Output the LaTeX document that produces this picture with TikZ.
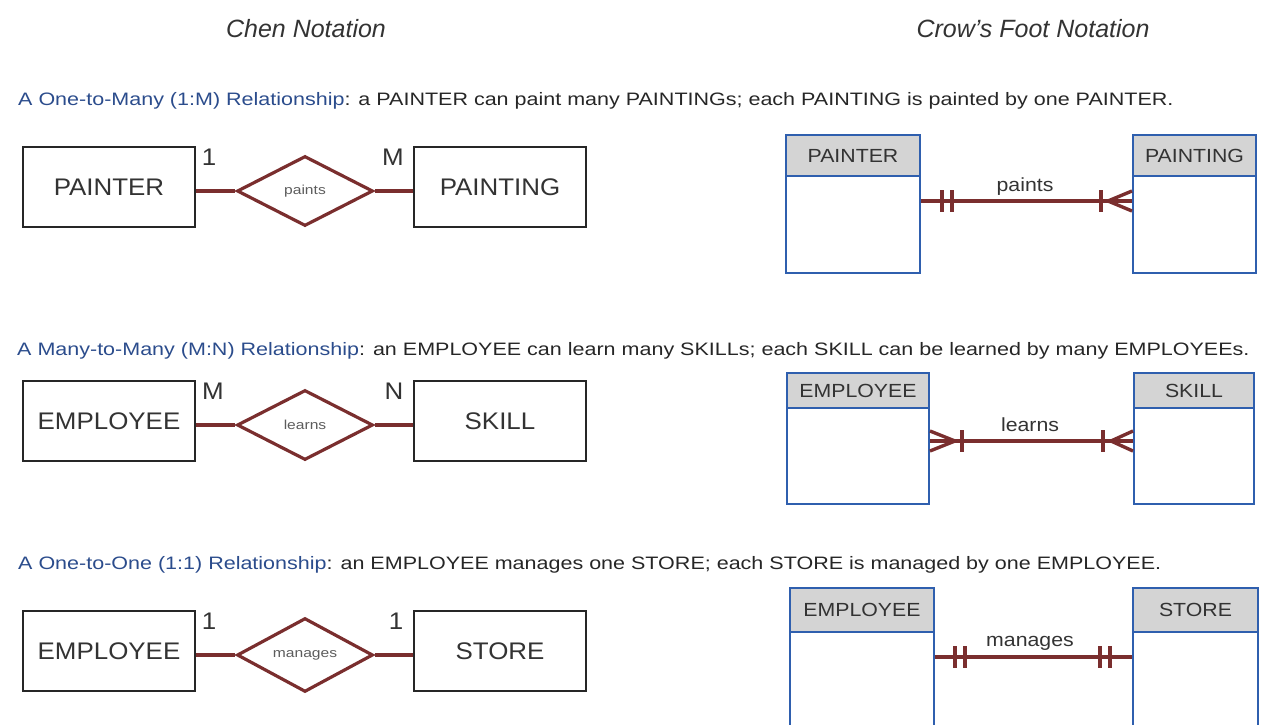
\documentclass[tikz,border=0pt]{standalone}
\usepackage{fontspec}
\setmainfont{Liberation Sans}
\newfontfamily\capfont[FakeStretch=1.195]{Liberation Sans}
\newfontfamily\chenfont[FakeStretch=1.08]{Liberation Sans}
\newfontfamily\crowfont[FakeStretch=1.12]{Liberation Sans}
\newfontfamily\relfont[FakeStretch=1.2]{Liberation Sans}
\usetikzlibrary{shapes.geometric,calc}
\definecolor{maroon}{HTML}{7A2E2E}
\definecolor{capblue}{HTML}{2B4C8C}
\definecolor{eblue}{HTML}{2F5FAE}
\definecolor{hgray}{HTML}{D4D4D4}
\definecolor{txt}{HTML}{333333}
\begin{document}
\begin{tikzpicture}[x=1pt,y=-1pt,
  chen/.style={draw=black!85, line width=1.8pt, minimum width=172pt, minimum height=80pt, inner sep=0pt, text=txt, font=\chenfont\fontsize{24}{26}\selectfont},
  rel/.style={diamond, draw=maroon, line width=3.2pt, minimum width=136pt, minimum height=70pt, inner sep=0pt, text=txt!80, font=\relfont\fontsize{13}{14}\selectfont},
  conn/.style={draw=maroon, line width=4pt},
  card/.style={text=txt, font=\chenfont\fontsize{24}{24}\selectfont, anchor=base, inner sep=0pt},
  hdr/.style={draw=eblue, fill=hgray, line width=2pt, inner sep=0pt, anchor=north west, text=txt, font=\crowfont\fontsize{19}{20}\selectfont},
  tbody/.style={draw=eblue, fill=white, line width=2pt, inner sep=0pt, anchor=north west},
  crow/.style={draw=maroon, line width=3.4pt},
  rlab/.style={text=txt, font=\crowfont\fontsize{19}{20}\selectfont, inner sep=0pt},
  title/.style={text=txt, font=\fontsize{25}{27}\selectfont\itshape, anchor=base, inner sep=0pt},
  captxt/.style={text=black!85, font=\capfont\fontsize{18}{20}\selectfont, anchor=base west, inner sep=0pt}
]
\useasboundingbox (0,0) rectangle (1261,725);
\clip (0,0) rectangle (1261,725);

% headings
\node[title] (tChen) at (306,38) {Chen Notation};
\node[title] (tCrow) at (1033,38) {Crow's Foot Notation};

% captions
\node[captxt] (cap1) at (18,106) {\textcolor{capblue}{A One-to-Many (1:M) Relationship}: a PAINTER can paint many PAINTINGs; each PAINTING is painted by one PAINTER.};
\node[captxt] (cap2) at (17,355) {\textcolor{capblue}{A Many-to-Many (M:N) Relationship}: an EMPLOYEE can learn many SKILLs; each SKILL can be learned by many EMPLOYEEs.};
\node[captxt] (cap3) at (18,569) {\textcolor{capblue}{A One-to-One (1:1) Relationship}: an EMPLOYEE manages one STORE; each STORE is managed by one EMPLOYEE.};

% ---------------- Chen row 1
\node[chen] (e1a) at (109,187) {PAINTER};
\node[chen] (e1b) at (500,187) {PAINTING};
\node[rel] (d1) at (305,191) {paints};
\draw[conn] (e1a.east |- d1.west) -- (d1.west);
\draw[conn] (d1.east) -- (e1b.west |- d1.east);
\node[card] (k1a) at (209,165) {1};
\node[card] (k1b) at (393,165) {M};

% ---------------- Chen row 2
\node[chen] (e2a) at (109,421) {EMPLOYEE};
\node[chen] (e2b) at (500,421) {SKILL};
\node[rel] (d2) at (305,425) {learns};
\draw[conn] (e2a.east |- d2.west) -- (d2.west);
\draw[conn] (d2.east) -- (e2b.west |- d2.east);
\node[card] (k2a) at (213,399) {M};
\node[card] (k2b) at (394,399) {N};

% ---------------- Chen row 3
\node[chen] (e3a) at (109,651) {EMPLOYEE};
\node[chen] (e3b) at (500,651) {STORE};
\node[rel] (d3) at (305,655) {manages};
\draw[conn] (e3a.east |- d3.west) -- (d3.west);
\draw[conn] (d3.east) -- (e3b.west |- d3.east);
\node[card] (k3a) at (209,629) {1};
\node[card] (k3b) at (396,629) {1};

% ---------------- Crow's foot row 1
\node[tbody, minimum width=134pt, minimum height=97pt] (b1a) at (785,175) {};
\node[hdr, minimum width=134pt, minimum height=41pt] (h1a) at (785,134) {PAINTER};
\node[tbody, minimum width=123pt, minimum height=97pt] (b1b) at (1132,175) {};
\node[hdr, minimum width=123pt, minimum height=41pt] (h1b) at (1132,134) {PAINTING};
\coordinate (c1a) at (b1a.east |- 0,201);
\coordinate (c1b) at (b1b.west |- 0,201);
\draw[crow] (c1a) -- (c1b);
\draw[crow] ([xshift=21pt,yshift=11pt]c1a) -- ([xshift=21pt,yshift=-11pt]c1a);
\draw[crow] ([xshift=31pt,yshift=11pt]c1a) -- ([xshift=31pt,yshift=-11pt]c1a);
\draw[crow] ([xshift=-31pt,yshift=11pt]c1b) -- ([xshift=-31pt,yshift=-11pt]c1b);
\draw[crow] ([xshift=-24pt]c1b) -- ([yshift=10pt]c1b);
\draw[crow] ([xshift=-24pt]c1b) -- ([yshift=-10pt]c1b);
\node[rlab] (l1) at (1025,187) {paints};

% ---------------- Crow's foot row 2
\node[tbody, minimum width=142pt, minimum height=96pt] (b2a) at (786,407) {};
\node[hdr, minimum width=142pt, minimum height=35pt] (h2a) at (786,372) {EMPLOYEE};
\node[tbody, minimum width=120pt, minimum height=96pt] (b2b) at (1133,407) {};
\node[hdr, minimum width=120pt, minimum height=35pt] (h2b) at (1133,372) {SKILL};
\coordinate (c2a) at (b2a.east |- 0,441);
\coordinate (c2b) at (b2b.west |- 0,441);
\draw[crow] (c2a) -- (c2b);
\draw[crow] ([xshift=25pt]c2a) -- ([yshift=10pt]c2a);
\draw[crow] ([xshift=25pt]c2a) -- ([yshift=-10pt]c2a);
\draw[crow] ([xshift=32pt,yshift=11pt]c2a) -- ([xshift=32pt,yshift=-11pt]c2a);
\draw[crow] ([xshift=-30pt,yshift=11pt]c2b) -- ([xshift=-30pt,yshift=-11pt]c2b);
\draw[crow] ([xshift=-22pt]c2b) -- ([yshift=10pt]c2b);
\draw[crow] ([xshift=-22pt]c2b) -- ([yshift=-10pt]c2b);
\node[rlab] (l2) at (1030,425) {learns};

% ---------------- Crow's foot row 3
\node[tbody, minimum width=144pt, minimum height=110pt] (b3a) at (789,631) {};
\node[hdr, minimum width=144pt, minimum height=44pt] (h3a) at (789,587) {EMPLOYEE};
\node[tbody, minimum width=125pt, minimum height=110pt] (b3b) at (1132,631) {};
\node[hdr, minimum width=125pt, minimum height=44pt] (h3b) at (1132,587) {STORE};
\coordinate (c3a) at (b3a.east |- 0,657);
\coordinate (c3b) at (b3b.west |- 0,657);
\draw[crow] (c3a) -- (c3b);
\draw[crow] ([xshift=20pt,yshift=11pt]c3a) -- ([xshift=20pt,yshift=-11pt]c3a);
\draw[crow] ([xshift=30pt,yshift=11pt]c3a) -- ([xshift=30pt,yshift=-11pt]c3a);
\draw[crow] ([xshift=-32pt,yshift=11pt]c3b) -- ([xshift=-32pt,yshift=-11pt]c3b);
\draw[crow] ([xshift=-22pt,yshift=11pt]c3b) -- ([xshift=-22pt,yshift=-11pt]c3b);
\node[rlab] (l3) at (1030,643) {manages};
\end{tikzpicture}
\end{document}
